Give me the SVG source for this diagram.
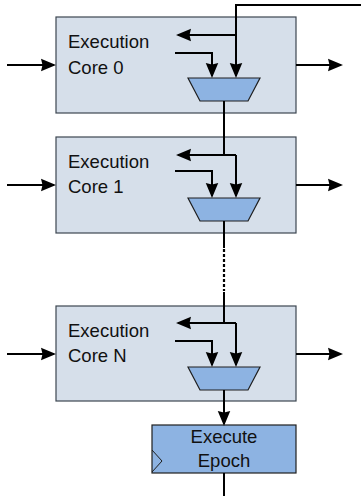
<svg xmlns="http://www.w3.org/2000/svg" width="361" height="496" viewBox="0 0 361 496">
  <style>
    .core { fill: #d6dfea; stroke: #3c4650; stroke-width: 1.2; }
    .mux { fill: #8db3e2; stroke: #1f1f1f; stroke-width: 1.2; }
    .epoch { fill: #8db3e2; stroke: #1f1f1f; stroke-width: 1.2; }
    .label { font-family: "Liberation Sans", Arial, sans-serif; font-size: 18.5px; fill: #111; }
    .wire { fill: none; stroke: #000; stroke-width: 2; }
    .arrow { fill: none; stroke: #000; stroke-width: 2; marker-end: url(#head); }
    .dotted { fill: none; stroke: #000; stroke-width: 2.2; stroke-dasharray: 3 2; }
  </style>
  <defs>
    <marker id="head" markerUnits="userSpaceOnUse" markerWidth="17" markerHeight="14" refX="13" refY="6.25" orient="auto" overflow="visible">
      <path d="M0,0 L15,6.25 L0,12.5 L1.5,6.25 z" fill="#000"/>
    </marker>
  </defs>

  <!-- execution core 0 -->
  <g id="core0">
    <rect class="core" x="56" y="17" width="240" height="96"/>
    <polygon class="mux" points="188,78 260,78 248,101 200,101"/>
    <text class="label" x="68" y="48">Execution</text>
    <text class="label" x="68" y="74">Core 0</text>
  </g>

  <!-- execution core 1 -->
  <g id="core1">
    <rect class="core" x="56" y="137" width="240" height="96"/>
    <polygon class="mux" points="188,198 260,198 248,221 200,221"/>
    <text class="label" x="68" y="168">Execution</text>
    <text class="label" x="68" y="193">Core 1</text>
  </g>

  <!-- execution core N -->
  <g id="coreN">
    <rect class="core" x="56" y="306" width="240" height="95"/>
    <polygon class="mux" points="188,367 260,367 248,390 200,390"/>
    <text class="label" x="68" y="337">Execution</text>
    <text class="label" x="68" y="362">Core N</text>
  </g>

  <!-- epoch register -->
  <g id="epoch">
    <rect class="epoch" x="152" y="425" width="144" height="48"/>
    <polyline points="152,450 162,461 152,472" fill="none" stroke="#1f1f1f" stroke-width="1"/>
    <text class="label" x="224" y="443" text-anchor="middle">Execute</text>
    <text class="label" x="224" y="467" text-anchor="middle">Epoch</text>
  </g>

  <g id="connectors">
    <!-- core inputs and outputs -->
    <line class="arrow" x1="7" y1="65" x2="54" y2="65"/>
    <line class="arrow" x1="296" y1="65" x2="341" y2="65"/>
    <line class="arrow" x1="7" y1="185" x2="54" y2="185"/>
    <line class="arrow" x1="296" y1="185" x2="341" y2="185"/>
    <line class="arrow" x1="7" y1="354" x2="54" y2="354"/>
    <line class="arrow" x1="296" y1="354" x2="341" y2="354"/>

    <!-- core 0 internal -->
    <polyline class="arrow" points="361,5 236,5 236,76"/>
    <line class="arrow" x1="236" y1="35" x2="178" y2="35"/>
    <polyline class="arrow" points="175,53 212,53 212,76"/>

    <!-- core 0 to core 1 -->
    <line class="wire" x1="224" y1="101" x2="224" y2="155"/>
    <line class="arrow" x1="236" y1="155" x2="178" y2="155"/>
    <line class="wire" x1="224" y1="155" x2="236" y2="155"/>
    <line class="arrow" x1="236" y1="155" x2="236" y2="196"/>
    <polyline class="arrow" points="175,171 212,171 212,196"/>

    <!-- core 1 to core N -->
    <line class="wire" x1="224" y1="221" x2="224" y2="248"/>
    <line class="dotted" x1="224" y1="249" x2="224" y2="291"/>
    <line class="wire" x1="224" y1="292" x2="224" y2="323"/>
    <line class="arrow" x1="236" y1="323" x2="178" y2="323"/>
    <line class="wire" x1="224" y1="323" x2="236" y2="323"/>
    <line class="arrow" x1="236" y1="323" x2="236" y2="365"/>
    <polyline class="arrow" points="175,341 212,341 212,365"/>

    <!-- core N to epoch register -->
    <line class="arrow" x1="224" y1="390" x2="224" y2="424"/>
    <line class="wire" x1="224" y1="473" x2="224" y2="496"/>
  </g>
</svg>
